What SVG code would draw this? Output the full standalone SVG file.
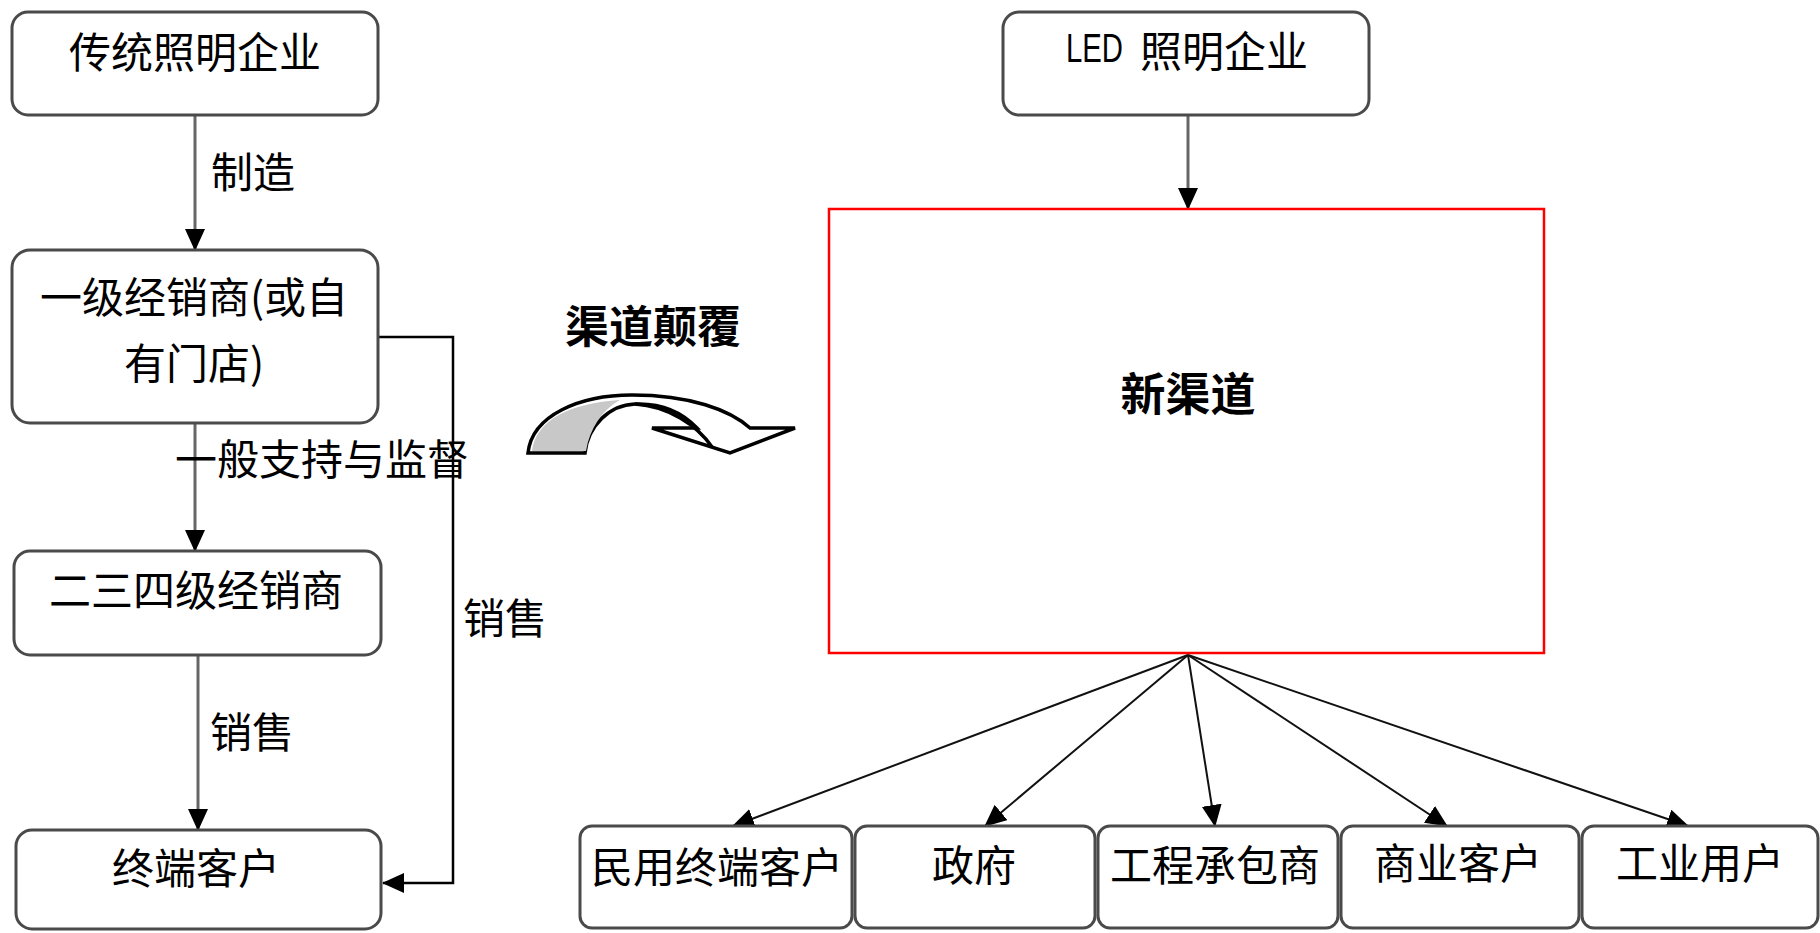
<svg xmlns="http://www.w3.org/2000/svg" width="1820" height="933" viewBox="0 0 1820 933">
<style>
.box{fill:#fff;stroke:#4a4a4a;stroke-width:3}
.t{font-family:"Noto Sans CJK SC","Liberation Sans",sans-serif;font-size:42px;fill:#000;dominant-baseline:central}
.c{text-anchor:middle}
.b{font-weight:bold}
.conn{fill:none;stroke:#666;stroke-width:3}
.fan{fill:none;stroke:#111;stroke-width:2}
</style>
<defs>
<marker id="ah" markerUnits="userSpaceOnUse" markerWidth="22" markerHeight="20" refX="21" refY="10" orient="auto" viewBox="0 0 22 20">
<path d="M0,0 L22,10 L0,20 Z" fill="#000"/>
</marker>
</defs>
<rect width="1820" height="933" fill="#fff"/>

<g id="connectors">
<line class="conn" x1="195" y1="116" x2="195" y2="250" marker-end="url(#ah)"/>
<line class="conn" x1="195" y1="423" x2="195" y2="551" marker-end="url(#ah)"/>
<line class="conn" x1="198" y1="655" x2="198" y2="830" marker-end="url(#ah)"/>
<polyline fill="none" stroke="#000" stroke-width="2.5" points="378,337 453,337 453,883 383,883" marker-end="url(#ah)"/>
<line class="conn" x1="1188" y1="116" x2="1188" y2="209" marker-end="url(#ah)"/>
<line class="fan" x1="1188" y1="655" x2="733" y2="826" marker-end="url(#ah)"/>
<line class="fan" x1="1188" y1="655" x2="985" y2="826" marker-end="url(#ah)"/>
<line class="fan" x1="1188" y1="655" x2="1215" y2="826" marker-end="url(#ah)"/>
<line class="fan" x1="1188" y1="655" x2="1447" y2="826" marker-end="url(#ah)"/>
<line class="fan" x1="1188" y1="655" x2="1688" y2="826" marker-end="url(#ah)"/>
<text class="t" x="211" y="169">制造</text>
<text class="t" x="175" y="456">一般支持与监督</text>
<text class="t" x="210" y="729">销售</text>
<text class="t" x="463" y="615">销售</text>
</g>

<g id="n-traditional">
<rect class="box" x="12" y="12" width="366" height="103" rx="16"/>
<text class="t c" x="195" y="49">传统照明企业</text>
</g>
<g id="n-level1">
<rect class="box" x="12" y="250" width="366" height="173" rx="18"/>
<text class="t c" x="194" y="294">一级经销商(或自</text>
<text class="t c" x="194" y="360">有门店)</text>
</g>
<g id="n-level234">
<rect class="box" x="14" y="551" width="367" height="104" rx="16"/>
<text class="t c" x="196" y="587">二三四级经销商</text>
</g>
<g id="n-end">
<rect class="box" x="16" y="830" width="365" height="99" rx="16"/>
<text class="t c" x="196" y="865">终端客户</text>
</g>

<g id="disrupt">
<text class="t c b" x="653" y="324" style="font-size:44px">渠道颠覆</text>
<path d="M528,453 C532,415 580,395 632,395 C690,395 730,410 750,428 L795,428 L730,453 L652,428 L697,428 C680,410 660,403 635,404 C610,405 588,425 585,453 Z" fill="#fff" stroke="#000" stroke-width="3.5" stroke-linejoin="miter"/>
<path d="M532,451 C536,420 570,403 620,400 C602,410 590,428 586,451 Z" fill="#c8c8c8"/>
<path d="M635,404 C668,406 697,425 712,447" fill="none" stroke="#000" stroke-width="3.5"/>
</g>

<g id="n-led">
<rect class="box" x="1003" y="12" width="366" height="103" rx="16"/>
<text class="t" x="1066" y="48" textLength="57" lengthAdjust="spacingAndGlyphs" style="font-family:'Liberation Sans',sans-serif;font-size:40px">LED</text>
<text class="t" x="1140" y="48">照明企业</text>
</g>

<g id="n-new">
<rect x="829" y="209" width="715" height="444" fill="#fff" stroke="#f00" stroke-width="2.5"/>
<text class="t c b" x="1188" y="391" style="font-size:45px">新渠道</text>
</g>

<g id="n-civil">
<rect class="box" x="580" y="826" width="272" height="102" rx="12"/>
<text class="t c" x="717" y="864">民用终端客户</text>
</g>
<g id="n-gov">
<rect class="box" x="855" y="826" width="240" height="102" rx="12"/>
<text class="t c" x="974" y="862">政府</text>
</g>
<g id="n-contractor">
<rect class="box" x="1098" y="826" width="240" height="102" rx="12"/>
<text class="t c" x="1215" y="862">工程承包商</text>
</g>
<g id="n-commercial">
<rect class="box" x="1341" y="826" width="238" height="102" rx="12"/>
<text class="t c" x="1458" y="860">商业客户</text>
</g>
<g id="n-industrial">
<rect class="box" x="1582" y="826" width="236" height="102" rx="12"/>
<text class="t c" x="1700" y="860">工业用户</text>
</g>
</svg>
